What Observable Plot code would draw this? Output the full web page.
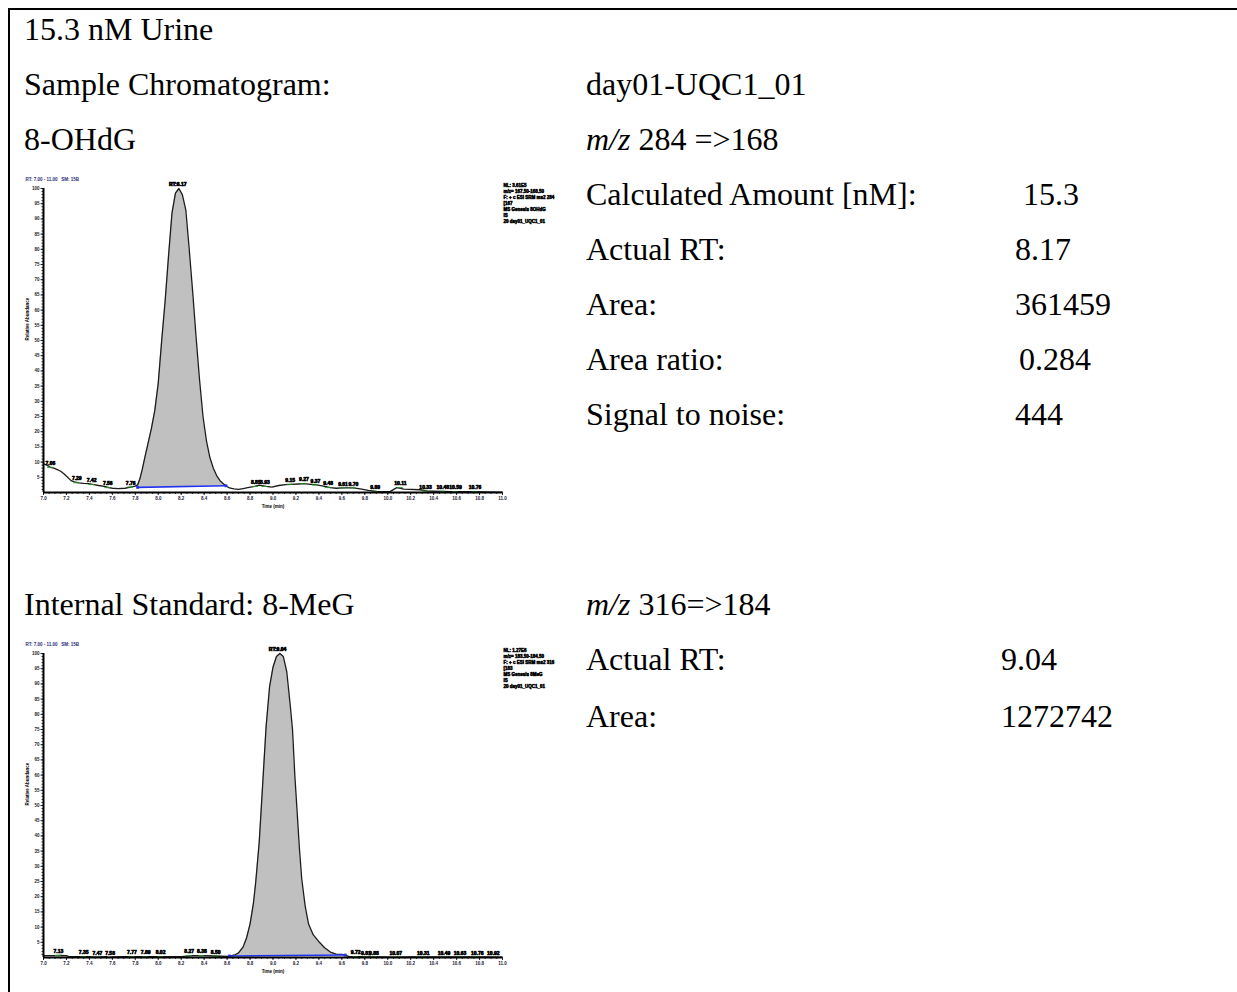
<!DOCTYPE html>
<html><head><meta charset="utf-8">
<script src="https://cdn.jsdelivr.net/npm/d3@7"></script>
<script src="https://cdn.jsdelivr.net/npm/@observablehq/plot@0.6"></script>
<style>
html,body{margin:0;padding:0;background:#fff;}
body{width:1237px;height:992px;position:relative;overflow:hidden;font-family:"Liberation Serif","Times New Roman",serif;}
.frame{position:absolute;left:8px;top:8px;right:-10px;bottom:-10px;border-top:2px solid #000;border-left:2px solid #000;}
.t{position:absolute;font-size:32px;line-height:32px;white-space:nowrap;color:#000;}
.chart{position:absolute;left:20px;}
</style></head><body>
<div class="frame"></div>
<div class="t" style="left:24px;top:13px">15.3 nM Urine</div>
<div class="t" style="left:24px;top:68px">Sample Chromatogram:</div>
<div class="t" style="left:586px;top:68px">day01-UQC1_01</div>
<div class="t" style="left:24px;top:123px">8-OHdG</div>
<div class="t" style="left:586px;top:123px"><i>m/z</i> 284 =&gt;168</div>
<div class="t" style="left:586px;top:178px">Calculated Amount [nM]:</div>
<div class="t" style="left:1023px;top:178px">15.3</div>
<div class="t" style="left:586px;top:233px">Actual RT:</div>
<div class="t" style="left:1015px;top:233px">8.17</div>
<div class="t" style="left:586px;top:288px">Area:</div>
<div class="t" style="left:1015px;top:288px">361459</div>
<div class="t" style="left:586px;top:343px">Area ratio:</div>
<div class="t" style="left:1019px;top:343px">0.284</div>
<div class="t" style="left:586px;top:398px">Signal to noise:</div>
<div class="t" style="left:1015px;top:398px">444</div>
<div class="t" style="left:24px;top:588px">Internal Standard: 8-MeG</div>
<div class="t" style="left:586px;top:588px"><i>m/z</i> 316=&gt;184</div>
<div class="t" style="left:586px;top:643px">Actual RT:</div>
<div class="t" style="left:1001px;top:643px">9.04</div>
<div class="t" style="left:586px;top:700px">Area:</div>
<div class="t" style="left:1001px;top:700px">1272742</div>
<div id="c1" class="chart" style="top:170px"></div>
<div id="c2" class="chart" style="top:635px"></div>
<script>
// ---------- shared axis values ----------
const xDomain = [7.0, 11.0];
const yDomain = [0, 100];
const xTicks = [7.0,7.2,7.4,7.6,7.8,8.0,8.2,8.4,8.6,8.8,9.0,9.2,9.4,9.6,9.8,10.0,10.2,10.4,10.6,10.8,11.0];
const yTicks = [5,10,15,20,25,30,35,40,45,50,55,60,65,70,75,80,85,90,95,100];

// ---------- sample: 8-OHdG ----------
const times1 = [7.00,7.03,7.06,7.09,7.12,7.15,7.18,7.21,7.24,7.27,7.31,7.35,7.39,7.44,7.48,7.53,7.57,7.60,7.65,7.71,7.76,7.80,
  7.82,7.84,7.86,7.88,7.91,7.94,7.97,8.00,8.03,8.06,8.09,8.12,8.15,8.18,8.21,8.24,8.27,8.30,8.33,8.36,8.39,8.42,8.45,8.48,8.51,8.54,8.57,8.59,
  8.62,8.66,8.70,8.74,8.78,8.84,8.88,8.94,8.99,9.05,9.11,9.16,9.22,9.27,9.33,9.38,9.44,9.50,9.55,9.61,9.70,9.76,9.83,9.90,
  10.02,10.06,10.08,10.14,10.28,10.34,10.46,10.57,10.72,10.84,10.95,11.00];
const values1 = [9.4,9.0,8.3,8.0,7.5,7.0,6.1,5.0,3.9,3.5,3.2,3.0,2.9,2.6,2.3,2.0,1.6,1.4,1.3,1.4,1.8,2.1,
  2.5,4.5,7.5,11,16,21,27,36,50,63,78,92,98.5,100,98,93,80,66,51,37,25,17,11.5,8,5.5,3.8,2.8,2.2,
  1.5,1.2,1.0,1.3,1.6,2.0,2.4,2.0,1.8,2.3,2.6,2.7,2.8,2.9,2.7,2.5,2.1,1.6,1.4,1.5,1.5,1.2,0.7,0.4,
  0.3,1.2,1.6,1.1,0.9,0.5,0.4,0.3,0.3,0.2,0.1,0.1];
const baseTimes1 = [7.82, 8.59];
const baseValues1 = [1.7, 2.2];
const noiseRT1 = [7.06,7.29,7.42,7.56,7.76,8.85,8.93,9.15,9.27,9.37,9.48,9.61,9.70,9.89,10.11,10.33,10.48,10.59,10.76];
const peakRT1 = 8.17;
const header1 = "RT: 7.00 - 11.00   SM: 15B";
const notes1 = ["NL: 3.61E5", "m/z= 167.50-168.50", "F: + c ESI SRM ms2 284", "[167", "MS Genesis 8OHdG", "IS", "20 day01_UQC1_01"];

// ---------- internal standard: 8-MeG ----------
const times2 = [7.00,7.05,7.10,7.15,7.20,7.22,7.30,7.40,7.45,7.50,7.55,7.57,7.60,7.70,7.80,7.90,8.00,8.10,8.20,8.30,8.40,8.50,8.60,
  8.63,8.67,8.70,8.74,8.77,8.80,8.83,8.85,8.88,8.91,8.94,8.97,9.00,9.03,9.06,9.09,9.12,9.15,9.17,9.19,9.21,9.23,9.25,9.28,9.31,9.35,9.40,9.45,9.50,9.55,9.60,9.63,
  9.66,9.75,9.85,9.95,10.05,10.20,10.40,10.60,10.80,11.00];
const values2 = [0.6,0.6,0.6,0.7,0.6,0.3,0.3,0.3,0.1,0.2,0.3,0.0,0.2,0.3,0.3,0.3,0.3,0.3,0.3,0.6,0.6,0.5,0.4,
  0.5,0.9,1.5,3.5,6.5,11,18,25,38,57,76,89,95.5,99,100,99,94,83,75,60,48,36,26,17,11,7.5,5.2,3.2,1.8,1.1,1.0,0.8,
  0.4,0.3,0.2,0.2,0.1,0.2,0.2,0.2,0.2,0.1];
const baseTimes2 = [8.62, 9.63];
const baseValues2 = [0.5, 0.8];
const noiseRT2 = [7.13,7.35,7.47,7.58,7.77,7.89,8.02,8.27,8.38,8.50,9.72,9.81,9.88,10.07,10.31,10.49,10.63,10.78,10.92];
const peakRT2 = 9.04;
const header2 = "RT: 7.00 - 11.00   SM: 15B";
const notes2 = ["NL: 1.27E6", "m/z= 183.50-184.50", "F: + c ESI SRM ms2 316", "[183", "MS Genesis 8MeG", "IS", "20 day01_UQC1_01"];

const tiny = {fontFamily: "Liberation Sans, Arial, sans-serif", fontWeight: "bold"};

function chromatogram(times, values, baseTimes, baseValues, noiseRT, peakRT, header, notes) {
  const trace = times.map((t, i) => ({t, v: values[i]}));
  const valueAt = t => trace.reduce((a, b) => Math.abs(b.t - t) < Math.abs(a.t - t) ? b : a).v;
  const base = baseTimes.map((t, i) => ({t, v: baseValues[i]}));
  const baseAt = t => base[0].v + (base[1].v - base[0].v) * (t - base[0].t) / (base[1].t - base[0].t);
  const peak = trace.filter(d => d.t >= base[0].t && d.t <= base[1].t);
  const noise = noiseRT.map(t => ({t, v: valueAt(t), label: t.toFixed(2)}));
  const apex = [{t: peakRT, v: yDomain[1], label: "RT:" + peakRT.toFixed(2)}];
  const xMinor = d3.range(0, 81).map(i => xDomain[0] + i * 0.05);
  const yMinor = d3.range(1, 101);
  return Plot.plot({
    width: 550, height: 345,
    marginLeft: 23, marginRight: 68, marginTop: 18, marginBottom: 23,
    style: {background: "transparent", overflow: "visible"},
    x: {domain: xDomain, label: null},
    y: {domain: yDomain, label: null},
    marks: [
      Plot.areaY(peak, {x: "t", y1: d => baseAt(d.t), y2: "v", fill: "#c0c0c0"}),
      Plot.line(trace, {x: "t", y: "v", stroke: "#1c1c1c", strokeWidth: 1.3}),
      Plot.line(base, {x: "t", y: "v", stroke: "#2233ee", strokeWidth: 1.6}),
      Plot.dot(base, {x: "t", y: "v", symbol: "square", r: 1.6, fill: "#2233ee"}),
      Plot.ruleY(noise, {x1: d => d.t - 0.025, x2: d => d.t + 0.025, y: "v", stroke: "#1f9a1f", strokeWidth: 1}),
      Plot.text(noise, {x: "t", y: "v", text: "label", dy: -4, fontSize: 5, ...tiny, fill: "#000", stroke: "#000", strokeWidth: 0.6}),
      Plot.text(apex, {x: "t", y: "v", text: "label", dy: -4, fontSize: 5, ...tiny, fill: "#000", stroke: "#000", strokeWidth: 0.7}),
      Plot.axisX({ticks: xMinor, tickSize: 2, tickFormat: () => "", label: null, strokeWidth: 0.8}),
      Plot.axisX({ticks: xTicks, tickSize: 3, tickPadding: 1, fontSize: 4.5, tickFormat: d => d.toFixed(1), label: null, color: "#223", ...tiny}),
      Plot.axisY({ticks: yMinor, tickSize: 1.5, tickFormat: () => "", label: null, strokeWidth: 0.8}),
      Plot.axisY({ticks: yTicks, tickSize: 2.5, tickPadding: 1.5, fontSize: 4.5, label: null, color: "#222", ...tiny}),
      Plot.ruleX([xDomain[0]], {stroke: "#000", strokeWidth: 2}),
      Plot.ruleY([yDomain[0]], {stroke: "#000", strokeWidth: 2}),
      Plot.text([header], {frameAnchor: "top-left", textAnchor: "start", lineAnchor: "middle", dx: -18, dy: -9, fontSize: 4.5, fill: "#2a2a7a", ...tiny}),
      Plot.text(["Relative Abundance"], {frameAnchor: "left", rotate: -90, dx: -16, fontSize: 4.5, fill: "#000", ...tiny}),
      Plot.text(["Time (min)"], {frameAnchor: "bottom", lineAnchor: "middle", dy: 14, fontSize: 4.5, fill: "#000", ...tiny}),
      Plot.text([notes.join("\n")], {frameAnchor: "top-right", textAnchor: "start", lineAnchor: "top", dx: 1, dy: -6, fontSize: 4.5, lineHeight: 1.35, fill: "#000", stroke: "#000", strokeWidth: 0.5, ...tiny})
    ]
  });
}

document.getElementById("c1").append(chromatogram(times1, values1, baseTimes1, baseValues1, noiseRT1, peakRT1, header1, notes1));
document.getElementById("c2").append(chromatogram(times2, values2, baseTimes2, baseValues2, noiseRT2, peakRT2, header2, notes2));
</script>
</body></html>
